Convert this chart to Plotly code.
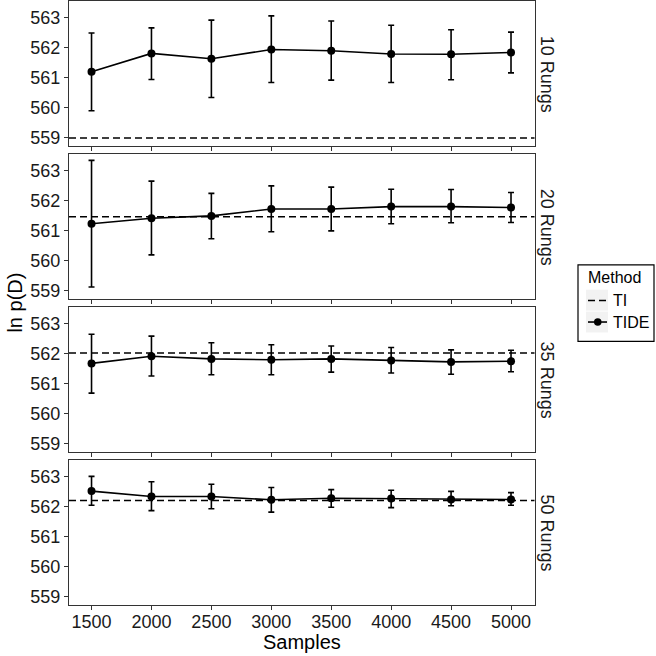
import plotly.graph_objects as go

# ---------------- data ----------------
samples = [1500, 2000, 2500, 3000, 3500, 4000, 4500, 5000]
rungs = ["10 Rungs", "20 Rungs", "35 Rungs", "50 Rungs"]
ti_values = [558.99, 561.46, 562.02, 562.20]

tide_10 = [561.20, 561.81, 561.63, 561.94, 561.90, 561.79, 561.78, 561.84]
tide_10_hi = [562.49, 562.66, 562.92, 563.06, 562.89, 562.75, 562.60, 562.52]
tide_10_lo = [559.90, 560.94, 560.34, 560.84, 560.92, 560.84, 560.93, 561.16]

tide_20 = [561.23, 561.41, 561.49, 561.72, 561.72, 561.80, 561.80, 561.77]
tide_20_hi = [563.34, 562.65, 562.24, 562.49, 562.45, 562.38, 562.37, 562.27]
tide_20_lo = [559.12, 560.19, 560.73, 560.96, 560.99, 561.23, 561.26, 561.27]

tide_35 = [561.67, 561.91, 561.82, 561.79, 561.82, 561.77, 561.72, 561.74]
tide_35_hi = [562.64, 562.58, 562.36, 562.29, 562.25, 562.20, 562.12, 562.11]
tide_35_lo = [560.68, 561.25, 561.29, 561.29, 561.38, 561.35, 561.31, 561.39]

tide_50 = [562.51, 562.33, 562.33, 562.22, 562.27, 562.26, 562.23, 562.23]
tide_50_hi = [563.00, 562.82, 562.74, 562.63, 562.56, 562.54, 562.50, 562.46]
tide_50_lo = [562.04, 561.86, 561.92, 561.81, 561.97, 561.96, 562.02, 562.04]

y_ticks = [559, 560, 561, 562, 563]

tide_means = [tide_10, tide_20, tide_35, tide_50]
tide_his = [tide_10_hi, tide_20_hi, tide_35_hi, tide_50_hi]
tide_los = [tide_10_lo, tide_20_lo, tide_35_lo, tide_50_lo]

# ---------------- layout geometry ----------------
W = H = 656
FONT = "Liberation Sans, Arial, Helvetica, sans-serif"
px_top = [0.5, 154.1, 307.7, 461.3]
panel_h = 145.3
x_dom = [69 / W, 534.5 / W]
x_range = [1312, 5196]
y_range = [558.72, 563.54]

fig = go.Figure()
layout = dict(
    width=W, height=H, autosize=False,
    margin=dict(l=0, r=0, t=0, b=0),
    paper_bgcolor="white", plot_bgcolor="white",
    showlegend=False,
    font=dict(family=FONT, color="black"),
)
shapes = []
annotations = []

for i in range(4):
    n = i + 1
    xa = "x" if n == 1 else f"x{n}"
    ya = "y" if n == 1 else f"y{n}"
    top = px_top[i]
    bot = top + panel_h
    ydom = [1 - bot / H, 1 - top / H]
    m = tide_means[i]
    up = [h - v for h, v in zip(tide_his[i], m)]
    dn = [v - l for v, l in zip(m, tide_los[i])]
    fig.add_trace(go.Scatter(
        x=samples, y=m, mode="lines+markers", xaxis=xa, yaxis=ya,
        line=dict(color="black", width=1.6),
        marker=dict(color="black", size=8),
        error_y=dict(type="data", symmetric=False, array=up, arrayminus=dn,
                     color="black", thickness=1.6, width=3),
        name="TIDE",
    ))
    # TI horizontal dashed line
    shapes.append(dict(type="line", xref=f"{xa} domain", yref=ya,
                       x0=0, x1=1, y0=ti_values[i], y1=ti_values[i],
                       line=dict(color="black", width=1.5, dash="7px,4px")))
    axkey_x = "xaxis" if n == 1 else f"xaxis{n}"
    axkey_y = "yaxis" if n == 1 else f"yaxis{n}"
    layout[axkey_x] = dict(
        domain=x_dom, anchor=ya, range=x_range,
        tickvals=samples, ticktext=[str(s) for s in samples],
        showticklabels=(n == 4), ticks="outside", ticklen=4, tickcolor="#333",
        tickfont=dict(size=18, color="#1a1a1a"),
        ticklabelstandoff=-4,
        showgrid=False, zeroline=False,
        showline=True, linecolor="#333", linewidth=1.2, mirror=True,
    )
    layout[axkey_y] = dict(
        domain=ydom, anchor=xa, range=y_range,
        tickvals=y_ticks, ticks="outside", ticklen=4, tickcolor="#333",
        tickfont=dict(size=18, color="#1a1a1a"),
        showgrid=False, zeroline=False,
        showline=True, linecolor="#333", linewidth=1.2, mirror=True,
    )
    # strip label
    annotations.append(dict(
        text=rungs[i], xref="paper", yref="paper",
        x=547 / W, y=1 - (top + panel_h / 2) / H,
        showarrow=False, textangle=90,
        font=dict(size=18, color="#1a1a1a"),
        xanchor="center", yanchor="middle",
    ))

# axis titles
annotations.append(dict(text="Samples", xref="paper", yref="paper",
                        x=(69 + 534.5) / 2 / W, y=1 - 644 / H,
                        showarrow=False, font=dict(size=20),
                        xanchor="center", yanchor="middle"))
annotations.append(dict(text="ln p(D)", xref="paper", yref="paper",
                        x=15.5 / W, y=1 - 303.5 / H, textangle=-90,
                        showarrow=False, font=dict(size=20),
                        xanchor="center", yanchor="middle"))

# manual legend
def px(x):
    return x / W

def py(y):
    return 1 - y / H

shapes.append(dict(type="rect", xref="paper", yref="paper",
                   x0=px(578), x1=px(654), y0=py(342), y1=py(265),
                   line=dict(color="black", width=1.2), fillcolor="white"))
shapes.append(dict(type="rect", xref="paper", yref="paper",
                   x0=px(586), x1=px(608), y0=py(311), y1=py(290),
                   line=dict(width=0), fillcolor="#f2f2f2"))
shapes.append(dict(type="rect", xref="paper", yref="paper",
                   x0=px(586), x1=px(608), y0=py(333), y1=py(312),
                   line=dict(width=0), fillcolor="#f2f2f2"))
shapes.append(dict(type="line", xref="paper", yref="paper",
                   x0=px(588), x1=px(607), y0=py(301), y1=py(301),
                   line=dict(color="black", width=1.5, dash="7px,4px")))
shapes.append(dict(type="line", xref="paper", yref="paper",
                   x0=px(588), x1=px(607), y0=py(322.5), y1=py(322.5),
                   line=dict(color="black", width=1.6)))
shapes.append(dict(type="circle", xref="paper", yref="paper",
                   x0=px(594), x1=px(601.5), y0=py(326.25), y1=py(318.75),
                   line=dict(color="black", width=0), fillcolor="black"))
annotations.append(dict(text="Method", xref="paper", yref="paper",
                        x=px(586), y=py(277.5), showarrow=False,
                        font=dict(size=16), xanchor="left", yanchor="middle"))
annotations.append(dict(text="TI", xref="paper", yref="paper",
                        x=px(611), y=py(301), showarrow=False,
                        font=dict(size=16), xanchor="left", yanchor="middle"))
annotations.append(dict(text="TIDE", xref="paper", yref="paper",
                        x=px(611), y=py(322.5), showarrow=False,
                        font=dict(size=16), xanchor="left", yanchor="middle"))

layout["shapes"] = shapes
layout["annotations"] = annotations
fig.update_layout(**layout)
fig.write_html(
    "out.html",
    config={"displayModeBar": False},
    post_script="document.body.style.margin='0';document.body.style.overflow='hidden';",
)
